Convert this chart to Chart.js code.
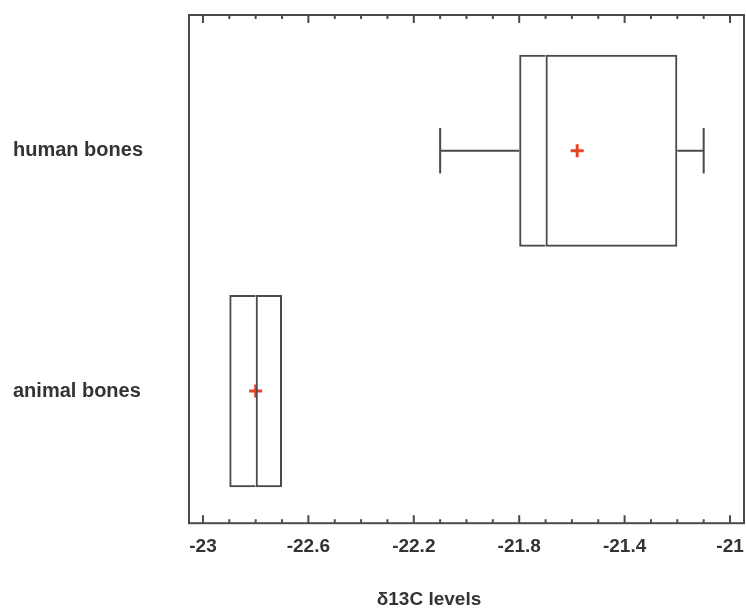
<!DOCTYPE html>
<html>
<head>
<meta charset="utf-8">
<script src="https://cdn.jsdelivr.net/npm/chart.js@4"></script>
<style>
  html, body { margin: 0; padding: 0; background: #fff; }
  #wrap { width: 746px; height: 612px; }
</style>
</head>
<body>
<div id="wrap"><canvas id="myChart"></canvas></div>
<script>
// data
const categories = ['human bones', 'animal bones'];
const whiskerLow = [-22.1, -22.9];
const q1 = [-21.8, -22.9];
const median = [-21.7, -22.8];
const q3 = [-21.2, -22.7];
const whiskerHigh = [-21.1, -22.7];
const means = [-21.58, -22.8];
const tickLabels = [-23, -22.6, -22.2, -21.8, -21.4, -21];
const axisTitle = 'δ13C levels';

const lineColor = '#4a4a4a';
const font = 'Liberation Sans, Arial, sans-serif';

// frame, inward ticks, whiskers and the off-centre axis title
const boxExtras = {
  id: 'boxExtras',
  afterDatasetsDraw(chart) {
    const {ctx, chartArea: a, scales: {x, y}} = chart;
    ctx.save();
    ctx.strokeStyle = lineColor;
    ctx.lineWidth = 2;
    ctx.strokeRect(a.left, a.top, a.right - a.left, a.bottom - a.top);

    // minor ticks every 0.1, major on the labelled values
    for (let k = 0; k <= 20; k++) {
      const v = -23 + k * 0.1;
      const px = x.getPixelForValue(v);
      const len = k % 4 === 0 ? 8 : 4;
      ctx.beginPath();
      ctx.moveTo(px, a.bottom); ctx.lineTo(px, a.bottom - len);
      ctx.moveTo(px, a.top); ctx.lineTo(px, a.top + len);
      ctx.stroke();
    }

    // whiskers (only where they reach past the box)
    categories.forEach((c, i) => {
      const cy = y.getPixelForValue(i);
      const capTop = y.getPixelForValue(i - 0.095);
      const capBot = y.getPixelForValue(i + 0.095);
      ctx.beginPath();
      if (whiskerLow[i] < q1[i]) {
        const lo = x.getPixelForValue(whiskerLow[i]);
        ctx.moveTo(lo, cy); ctx.lineTo(x.getPixelForValue(q1[i]), cy);
        ctx.moveTo(lo, capTop); ctx.lineTo(lo, capBot);
      }
      if (whiskerHigh[i] > q3[i]) {
        const hi = x.getPixelForValue(whiskerHigh[i]);
        ctx.moveTo(x.getPixelForValue(q3[i]), cy); ctx.lineTo(hi, cy);
        ctx.moveTo(hi, capTop); ctx.lineTo(hi, capBot);
      }
      ctx.stroke();
    });

    ctx.fillStyle = '#333';
    ctx.font = 'bold 19px ' + font;
    ctx.textAlign = 'center';
    ctx.textBaseline = 'middle';
    ctx.fillText(axisTitle, a.left + 240, 600);
    ctx.restore();
  }
};

const ctx = document.getElementById('myChart');
new Chart(ctx, {
  type: 'bar',
  data: {
    datasets: [
      {
        label: 'lower box',
        data: categories.map((c, i) => ({y: i, x: [q1[i], median[i]]})),
        backgroundColor: 'rgba(0,0,0,0)',
        borderColor: lineColor,
        borderWidth: {top: 2, bottom: 2, left: 2, right: 0},
        borderSkipped: false,
        grouped: false,
        barPercentage: 0.8,
        categoryPercentage: 1
      },
      {
        label: 'upper box',
        data: categories.map((c, i) => ({y: i, x: [median[i], q3[i]]})),
        backgroundColor: 'rgba(0,0,0,0)',
        borderColor: lineColor,
        borderWidth: {top: 2, bottom: 2, left: 2, right: 2},
        borderSkipped: false,
        grouped: false,
        barPercentage: 0.8,
        categoryPercentage: 1
      },
      {
        type: 'scatter',
        label: 'mean',
        data: categories.map((c, i) => ({x: means[i], y: i})),
        pointStyle: 'cross',
        pointRadius: 6.5,
        borderWidth: 3,
        borderColor: '#e8442a',
        backgroundColor: '#e8442a'
      }
    ]
  },
  options: {
    indexAxis: 'y',
    responsive: true,
    maintainAspectRatio: false,
    animation: false,
    layout: {autoPadding: false, padding: {left: 13, right: 2, top: 15, bottom: 42}},
    plugins: {legend: {display: false}, tooltip: {enabled: false}},
    scales: {
      x: {
        type: 'linear',
        min: -23.053,
        max: -20.947,
        afterBuildTicks: (scale) => { scale.ticks = tickLabels.map(v => ({value: v})); },
        afterFit: (scale) => { scale.paddingLeft = 0; scale.paddingRight = 0; },
        grid: {display: false, drawTicks: false},
        border: {display: false},
        ticks: {
          padding: 12,
          color: '#333',
          font: {family: font, size: 19, weight: 'bold'},
          callback: (v) => String(v)
        }
      },
      y: {
        type: 'linear',
        reverse: true,
        offset: false,
        min: -0.565,
        max: 1.55,
        afterBuildTicks: (scale) => { scale.ticks = categories.map((c, i) => ({value: i})); },
        afterFit: (scale) => { scale.width = 176; scale.paddingTop = 0; scale.paddingBottom = 0; },
        grid: {display: false, drawTicks: false},
        border: {display: false},
        ticks: {
          crossAlign: 'far',
          padding: 0,
          color: '#333',
          font: {family: font, size: 20, weight: 'bold'},
          callback: (v) => categories[v]
        }
      }
    }
  },
  plugins: [boxExtras]
});
</script>
</body>
</html>
